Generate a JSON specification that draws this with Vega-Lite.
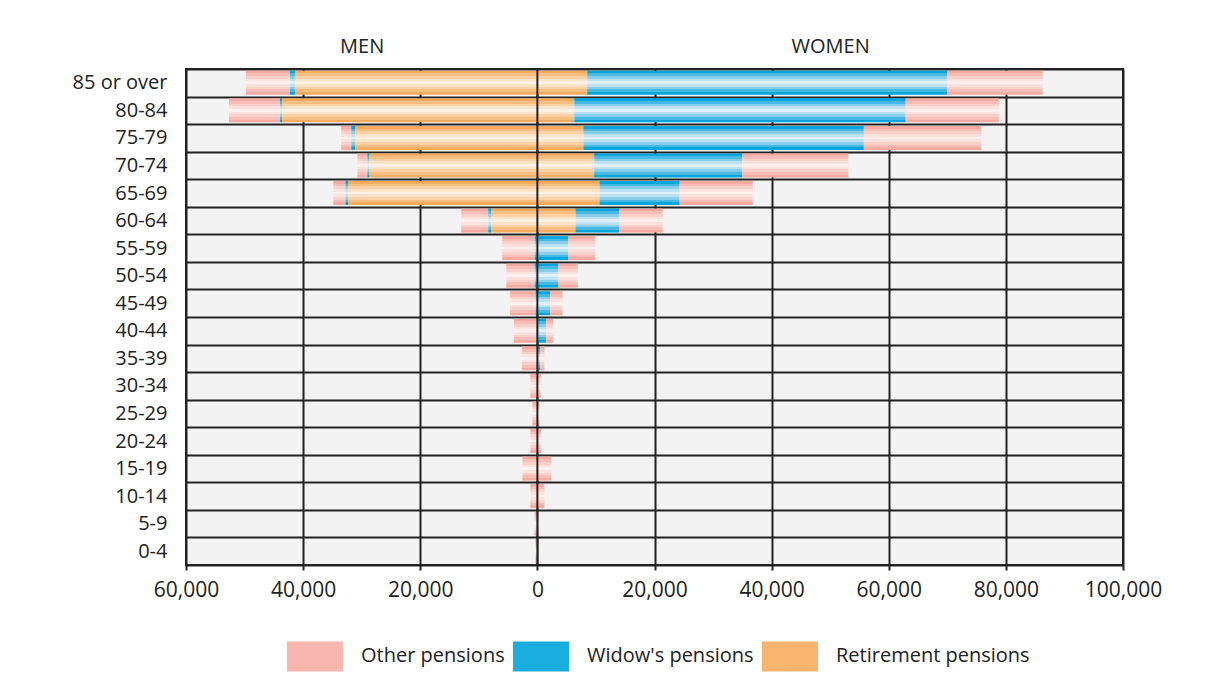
{
  "$schema": "https://vega.github.io/schema/vega-lite/v6.json",
  "width": 937,
  "height": 496,
  "autosize": {"type": "none"},
  "padding": {"left": 186, "top": 69, "right": 97, "bottom": 117},
  "background": "white",
  "config": {
    "view": {"fill": "#f3f3f3", "stroke": "#222222", "strokeWidth": 2},
    "font": "Open Sans",
    "axis": {"labelFont": "Open Sans", "labelColor": "#222222"},
    "legend": {"labelFont": "Open Sans", "labelColor": "#222222"}
  },
  "layer": [
    {
      "data": {
        "values": [
          {"age": "85 or over", "sex": "Men", "type": "Retirement pensions", "value": -41400},
          {"age": "85 or over", "sex": "Men", "type": "Widow's pensions", "value": -850},
          {"age": "85 or over", "sex": "Men", "type": "Other pensions", "value": -7500},
          {"age": "85 or over", "sex": "Women", "type": "Retirement pensions", "value": 8500},
          {"age": "85 or over", "sex": "Women", "type": "Widow's pensions", "value": 61500},
          {"age": "85 or over", "sex": "Women", "type": "Other pensions", "value": 16300},
          {"age": "80-84", "sex": "Men", "type": "Retirement pensions", "value": -43600},
          {"age": "80-84", "sex": "Men", "type": "Widow's pensions", "value": -350},
          {"age": "80-84", "sex": "Men", "type": "Other pensions", "value": -8700},
          {"age": "80-84", "sex": "Women", "type": "Retirement pensions", "value": 6300},
          {"age": "80-84", "sex": "Women", "type": "Widow's pensions", "value": 56600},
          {"age": "80-84", "sex": "Women", "type": "Other pensions", "value": 15900},
          {"age": "75-79", "sex": "Men", "type": "Retirement pensions", "value": -31100},
          {"age": "75-79", "sex": "Men", "type": "Widow's pensions", "value": -700},
          {"age": "75-79", "sex": "Men", "type": "Other pensions", "value": -1700},
          {"age": "75-79", "sex": "Women", "type": "Retirement pensions", "value": 7850},
          {"age": "75-79", "sex": "Women", "type": "Widow's pensions", "value": 47900},
          {"age": "75-79", "sex": "Women", "type": "Other pensions", "value": 20000},
          {"age": "70-74", "sex": "Men", "type": "Retirement pensions", "value": -28700},
          {"age": "70-74", "sex": "Men", "type": "Widow's pensions", "value": -350},
          {"age": "70-74", "sex": "Men", "type": "Other pensions", "value": -1700},
          {"age": "70-74", "sex": "Women", "type": "Retirement pensions", "value": 9700},
          {"age": "70-74", "sex": "Women", "type": "Widow's pensions", "value": 25300},
          {"age": "70-74", "sex": "Women", "type": "Other pensions", "value": 18100},
          {"age": "65-69", "sex": "Men", "type": "Retirement pensions", "value": -32300},
          {"age": "65-69", "sex": "Men", "type": "Widow's pensions", "value": -500},
          {"age": "65-69", "sex": "Men", "type": "Other pensions", "value": -2050},
          {"age": "65-69", "sex": "Women", "type": "Retirement pensions", "value": 10600},
          {"age": "65-69", "sex": "Women", "type": "Widow's pensions", "value": 13700},
          {"age": "65-69", "sex": "Women", "type": "Other pensions", "value": 12500},
          {"age": "60-64", "sex": "Men", "type": "Retirement pensions", "value": -7900},
          {"age": "60-64", "sex": "Men", "type": "Widow's pensions", "value": -500},
          {"age": "60-64", "sex": "Men", "type": "Other pensions", "value": -4600},
          {"age": "60-64", "sex": "Women", "type": "Retirement pensions", "value": 6500},
          {"age": "60-64", "sex": "Women", "type": "Widow's pensions", "value": 7500},
          {"age": "60-64", "sex": "Women", "type": "Other pensions", "value": 7400},
          {"age": "55-59", "sex": "Men", "type": "Widow's pensions", "value": -500},
          {"age": "55-59", "sex": "Men", "type": "Other pensions", "value": -5500},
          {"age": "55-59", "sex": "Women", "type": "Widow's pensions", "value": 5300},
          {"age": "55-59", "sex": "Women", "type": "Other pensions", "value": 4600},
          {"age": "50-54", "sex": "Men", "type": "Widow's pensions", "value": -500},
          {"age": "50-54", "sex": "Men", "type": "Other pensions", "value": -4800},
          {"age": "50-54", "sex": "Women", "type": "Widow's pensions", "value": 3600},
          {"age": "50-54", "sex": "Women", "type": "Other pensions", "value": 3300},
          {"age": "45-49", "sex": "Men", "type": "Widow's pensions", "value": -350},
          {"age": "45-49", "sex": "Men", "type": "Other pensions", "value": -4300},
          {"age": "45-49", "sex": "Women", "type": "Widow's pensions", "value": 2200},
          {"age": "45-49", "sex": "Women", "type": "Other pensions", "value": 2100},
          {"age": "40-44", "sex": "Men", "type": "Widow's pensions", "value": -100},
          {"age": "40-44", "sex": "Men", "type": "Other pensions", "value": -3900},
          {"age": "40-44", "sex": "Women", "type": "Widow's pensions", "value": 1500},
          {"age": "40-44", "sex": "Women", "type": "Other pensions", "value": 1200},
          {"age": "35-39", "sex": "Men", "type": "Widow's pensions", "value": -50},
          {"age": "35-39", "sex": "Men", "type": "Other pensions", "value": -2600},
          {"age": "35-39", "sex": "Women", "type": "Widow's pensions", "value": 500},
          {"age": "35-39", "sex": "Women", "type": "Other pensions", "value": 700},
          {"age": "30-34", "sex": "Men", "type": "Other pensions", "value": -1200},
          {"age": "30-34", "sex": "Women", "type": "Widow's pensions", "value": 100},
          {"age": "30-34", "sex": "Women", "type": "Other pensions", "value": 500},
          {"age": "25-29", "sex": "Men", "type": "Other pensions", "value": -850},
          {"age": "25-29", "sex": "Women", "type": "Other pensions", "value": 350},
          {"age": "20-24", "sex": "Men", "type": "Other pensions", "value": -1200},
          {"age": "20-24", "sex": "Women", "type": "Other pensions", "value": 650},
          {"age": "15-19", "sex": "Men", "type": "Other pensions", "value": -2550},
          {"age": "15-19", "sex": "Women", "type": "Other pensions", "value": 2400},
          {"age": "10-14", "sex": "Men", "type": "Other pensions", "value": -1200},
          {"age": "10-14", "sex": "Women", "type": "Other pensions", "value": 1200},
          {"age": "5-9", "sex": "Men", "type": "Other pensions", "value": -500},
          {"age": "5-9", "sex": "Women", "type": "Other pensions", "value": 200},
          {"age": "0-4", "sex": "Men", "type": "Other pensions", "value": -350},
          {"age": "0-4", "sex": "Women", "type": "Other pensions", "value": 100}
        ]
      },
      "transform": [
        {"calculate": "indexof(['Retirement pensions', \"Widow's pensions\", 'Other pensions'], datum.type)", "as": "rank"},
        {"stack": "value", "groupby": ["age"], "sort": [{"field": "rank", "order": "ascending"}], "as": ["v0", "v1"], "offset": "zero"}
      ],
      "encoding": {
        "y": {
          "field": "age",
          "type": "nominal",
          "sort": ["85 or over", "80-84", "75-79", "70-74", "65-69", "60-64", "55-59", "50-54", "45-49", "40-44", "35-39", "30-34", "25-29", "20-24", "15-19", "10-14", "5-9", "0-4"],
          "scale": {"paddingInner": 0, "paddingOuter": 0},
          "axis": {"title": null, "ticks": false, "domain": false, "tickBand": "extent", "grid": true, "gridColor": "#222222", "gridWidth": 2, "gridOpacity": 1, "labelFontSize": 20, "labelPadding": 19}
        },
        "x": {
          "field": "v0",
          "type": "quantitative",
          "scale": {"domain": [-60000, 100000], "nice": false, "zero": false},
          "axis": {"title": null, "values": [-60000, -40000, -20000, 0, 20000, 40000, 60000, 80000, 100000], "labelExpr": "format(abs(datum.value), ',')", "labelFlush": false, "labelOverlap": false, "grid": true, "gridColor": "#222222", "gridWidth": 2, "gridOpacity": 1, "domain": false, "tickColor": "#222222", "tickSize": 5, "tickWidth": 2, "labelFontSize": 21, "labelPadding": 9}
        },
        "x2": {"field": "v1"}
      },
      "layer": [
        {
          "transform": [{"filter": "datum.type === 'Retirement pensions'"}],
          "mark": {"type": "bar", "height": {"band": 0.87}, "fill": {"gradient": "linear", "x1": 0, "y1": 0, "x2": 0, "y2": 1, "stops": [
            {"offset": 0, "color": "#f5ac5e"}, {"offset": 0.111, "color": "#f5ac5e"},
            {"offset": 0.111, "color": "#f8be80"}, {"offset": 0.222, "color": "#f8be80"},
            {"offset": 0.222, "color": "#fbd1a5"}, {"offset": 0.333, "color": "#fbd1a5"},
            {"offset": 0.333, "color": "#fde3c8"}, {"offset": 0.444, "color": "#fde3c8"},
            {"offset": 0.444, "color": "#fef2e6"}, {"offset": 0.556, "color": "#fef2e6"},
            {"offset": 0.556, "color": "#fde3c8"}, {"offset": 0.667, "color": "#fde3c8"},
            {"offset": 0.667, "color": "#fbd1a5"}, {"offset": 0.778, "color": "#fbd1a5"},
            {"offset": 0.778, "color": "#f8be80"}, {"offset": 0.889, "color": "#f8be80"},
            {"offset": 0.889, "color": "#f5ac5e"}, {"offset": 1, "color": "#f5ac5e"}]}}
        },
        {
          "transform": [{"filter": "datum.type === \"Widow's pensions\""}],
          "mark": {"type": "bar", "height": {"band": 0.87}, "fill": {"gradient": "linear", "x1": 0, "y1": 0, "x2": 0, "y2": 1, "stops": [
            {"offset": 0, "color": "#00a5db"}, {"offset": 0.111, "color": "#00a5db"},
            {"offset": 0.111, "color": "#45b9e3"}, {"offset": 0.222, "color": "#45b9e3"},
            {"offset": 0.222, "color": "#88ceeb"}, {"offset": 0.333, "color": "#88ceeb"},
            {"offset": 0.333, "color": "#bbe1f2"}, {"offset": 0.444, "color": "#bbe1f2"},
            {"offset": 0.444, "color": "#e0f0f8"}, {"offset": 0.556, "color": "#e0f0f8"},
            {"offset": 0.556, "color": "#bbe1f2"}, {"offset": 0.667, "color": "#bbe1f2"},
            {"offset": 0.667, "color": "#88ceeb"}, {"offset": 0.778, "color": "#88ceeb"},
            {"offset": 0.778, "color": "#45b9e3"}, {"offset": 0.889, "color": "#45b9e3"},
            {"offset": 0.889, "color": "#00a5db"}, {"offset": 1, "color": "#00a5db"}]}}
        },
        {
          "transform": [{"filter": "datum.type === 'Other pensions'"}],
          "mark": {"type": "bar", "height": {"band": 0.87}, "fill": {"gradient": "linear", "x1": 0, "y1": 0, "x2": 0, "y2": 1, "stops": [
            {"offset": 0, "color": "#f5aaa2"}, {"offset": 0.111, "color": "#f5aaa2"},
            {"offset": 0.111, "color": "#f8bdb6"}, {"offset": 0.222, "color": "#f8bdb6"},
            {"offset": 0.222, "color": "#fad0ca"}, {"offset": 0.333, "color": "#fad0ca"},
            {"offset": 0.333, "color": "#fce1dd"}, {"offset": 0.444, "color": "#fce1dd"},
            {"offset": 0.444, "color": "#fef0ee"}, {"offset": 0.556, "color": "#fef0ee"},
            {"offset": 0.556, "color": "#fce1dd"}, {"offset": 0.667, "color": "#fce1dd"},
            {"offset": 0.667, "color": "#fad0ca"}, {"offset": 0.778, "color": "#fad0ca"},
            {"offset": 0.778, "color": "#f8bdb6"}, {"offset": 0.889, "color": "#f8bdb6"},
            {"offset": 0.889, "color": "#f5aaa2"}, {"offset": 1, "color": "#f5aaa2"}]}}
        },
        {
          "mark": {"type": "bar", "height": {"band": 0.87}, "opacity": 0},
          "encoding": {
            "color": {
              "field": "type",
              "type": "nominal",
              "sort": ["Other pensions", "Widow's pensions", "Retirement pensions"],
              "scale": {"domain": ["Other pensions", "Widow's pensions", "Retirement pensions"], "range": ["#f7b7b0", "#1aaede", "#f7b570"]},
              "legend": {
                "title": null, "orient": "none", "legendX": 101, "legendY": 559, "direction": "horizontal",
                "symbolType": "M-1,-0.536H1V0.536H-1Z", "symbolSize": 3136, "symbolStrokeWidth": 0, "symbolOpacity": 1,
                "labelFontSize": 20, "labelOffset": 18, "labelLimit": 400, "columnPadding": 8, "padding": 0
              }
            }
          }
        }
      ]
    },
    {
      "data": {"values": [{"v": 0}]},
      "mark": {"type": "rule", "color": "#222222", "strokeWidth": 2},
      "encoding": {
        "x": {
          "field": "v",
          "type": "quantitative",
          "axis": {"orient": "top", "title": null, "values": [-30000, 50000], "labelExpr": "datum.value < 0 ? 'MEN' : 'WOMEN'", "ticks": false, "domain": false, "grid": false, "labelFontSize": 20, "labelPadding": 13}
        }
      }
    }
  ],
  "resolve": {"axis": {"x": "independent"}}
}
